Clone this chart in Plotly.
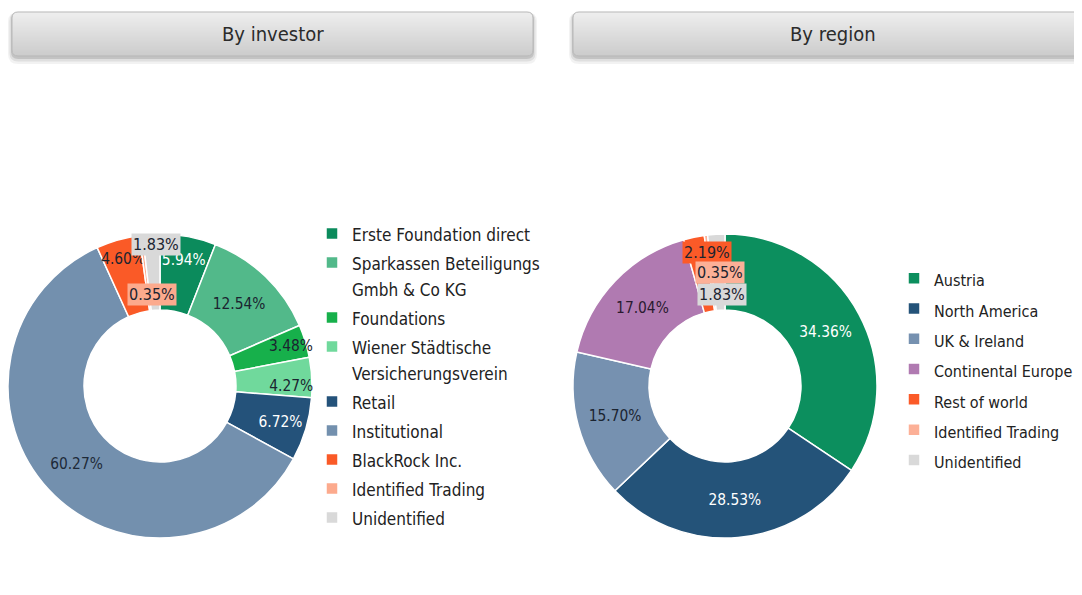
import plotly.graph_objects as go
import math

# ---------------- data ----------------
inv_labels = ["Erste Foundation direct", "Sparkassen Beteiligungs<br>Gmbh & Co KG", "Foundations",
              "Wiener Städtische<br>Versicherungsverein", "Retail", "Institutional",
              "BlackRock Inc.", "Identified Trading", "Unidentified"]
inv_values = [5.94, 12.54, 3.48, 4.27, 6.72, 60.27, 4.60, 0.35, 1.83]
inv_colors = ["#0b8b5c", "#52b98a", "#17b04b", "#70d99c", "#24527a", "#7390ae",
              "#fa5a27", "#fcaa8d", "#d9d9d9"]
inv_textcolors = ["#ffffff", "#1b2430", "#1b2430", "#1b2430", "#ffffff", "#1e2a38",
                  "#1b2430", "#1b2430", "#1b2430"]

reg_labels = ["Austria", "North America", "UK & Ireland", "Continental Europe",
              "Rest of world", "Identified Trading", "Unidentified"]
reg_values = [34.36, 28.53, 15.70, 17.04, 2.19, 0.35, 1.83]
reg_colors = ["#0c8f5e", "#245379", "#7691b0", "#b07ab1", "#fb5a28", "#fcb097", "#d9d9d9"]
reg_textcolors = ["#ffffff", "#ffffff", "#1b2430", "#2a1a30", "#1b2430", "#1b2430", "#1b2430"]

titles = ["By investor", "By region"]

# page body has an 8px margin: figure occupies screen pixels 8..1082 x 8..595
OFF = 8
W, H = 1082 - OFF, 595 - OFF
FONT = "Liberation Sans Narrow, DejaVu Sans Condensed, Arial Narrow, sans-serif"


def px(x):
    return (x - OFF) / W


def py(y):
    return 1 - (y - OFF) / H


def label_texts(values, min_inside):
    return ["%{value:.2f}%" if v >= min_inside else "" for v in values]


def legend_labels(labels, size):
    # smaller glyphs inside a legend whose row height follows a larger font
    return [f'<span style="font-size:{size}px">{l}</span>' for l in labels]


# pie geometry (screen pixels)
inv_c, inv_r = (160, 386), 152
reg_c, reg_r = (725, 386), 152


def domain(c, r):
    return dict(x=[max(px(c[0] - r), 0), px(c[0] + r)], y=[py(c[1] + r), py(c[1] - r)])


fig = go.Figure()
fig.add_trace(go.Pie(
    labels=legend_labels(inv_labels, 17), values=inv_values, sort=False,
    direction="clockwise", rotation=0,
    hole=0.5, domain=domain(inv_c, inv_r),
    marker=dict(colors=inv_colors, line=dict(color="white", width=1.5)),
    texttemplate=label_texts(inv_values, 3), textposition="inside",
    insidetextorientation="horizontal",
    textfont=dict(family=FONT, size=16, color=inv_textcolors),
    legend="legend", showlegend=True, hoverinfo="label+percent",
))
fig.add_trace(go.Pie(
    labels=legend_labels(reg_labels, 16), values=reg_values, sort=False,
    direction="clockwise", rotation=0,
    hole=0.5, domain=domain(reg_c, reg_r),
    marker=dict(colors=reg_colors, line=dict(color="white", width=1.5)),
    texttemplate=label_texts(reg_values, 3), textposition="inside",
    insidetextorientation="horizontal",
    textfont=dict(family=FONT, size=16, color=reg_textcolors),
    legend="legend2", showlegend=True, hoverinfo="label+percent",
))

# ---------------- small-slice labels with coloured boxes ----------------
annotations = []


def small_label(idx, values, colors, c, r, dx, frac):
    annotations.append(dict(
        x=px(c[0] + dx), y=py(c[1] - frac * r), xref="paper", yref="paper",
        xanchor="center", yanchor="middle",
        text=f"{values[idx]:.2f}%", showarrow=False, bgcolor=colors[idx], borderpad=1,
        font=dict(family=FONT, size=16, color="#1b2430")))


small_label(8, inv_values, inv_colors, inv_c, inv_r, -4, 0.93)
small_label(7, inv_values, inv_colors, inv_c, inv_r, -8, 0.60)
small_label(4, reg_values, reg_colors, reg_c, reg_r, -18, 0.88)
small_label(5, reg_values, reg_colors, reg_c, reg_r, -5, 0.745)
small_label(6, reg_values, reg_colors, reg_c, reg_r, -3, 0.60)

# ---------------- header buttons ----------------
shapes = []


def rounded_path(x0, y0, x1, y1, r):
    P = lambda x, y: f"{px(x):.5f},{py(y):.5f}"
    return (f"M{P(x0 + r, y0)} L{P(x1 - r, y0)} Q{P(x1, y0)} {P(x1, y0 + r)} "
            f"L{P(x1, y1 - r)} Q{P(x1, y1)} {P(x1 - r, y1)} L{P(x0 + r, y1)} "
            f"Q{P(x0, y1)} {P(x0, y1 - r)} L{P(x0, y0 + r)} Q{P(x0, y0)} {P(x0 + r, y0)} Z")


def header(x0, y0, x1, y1, text):
    r = 6
    for grow, dy, alpha in [(4, 4, 0.05), (2.5, 3, 0.08), (1, 2, 0.12)]:
        shapes.append(dict(type="path", xref="paper", yref="paper",
                           path=rounded_path(x0 - grow, y0 - grow + dy, x1 + grow, y1 + grow + dy, r + grow),
                           fillcolor=f"rgba(0,0,0,{alpha})", line=dict(width=0), layer="above"))
    shapes.append(dict(type="path", xref="paper", yref="paper",
                       path=rounded_path(x0, y0, x1, y1, r),
                       fillcolor="#dcdcdc", line=dict(width=0), layer="above"))
    n = int(y1 - y0)
    top, bot = (238, 238, 238), (204, 204, 204)
    for i in range(n):
        t = i / max(n - 1, 1)
        col = tuple(round(top[k] + (bot[k] - top[k]) * t) for k in range(3))
        ym = y0 + i + 0.5
        d = min(ym - y0, y1 - ym)
        inset = r - math.sqrt(max(r * r - (r - d) ** 2, 0)) if d < r else 0
        shapes.append(dict(type="rect", xref="paper", yref="paper",
                           x0=px(x0 + inset), x1=px(x1 - inset), y0=py(y0 + i), y1=py(y0 + i + 1.05),
                           fillcolor="rgb(%d,%d,%d)" % col, line=dict(width=0), layer="above"))
    shapes.append(dict(type="path", xref="paper", yref="paper",
                       path=rounded_path(x0, y0, x1, y1, r),
                       fillcolor="rgba(0,0,0,0)", line=dict(color="#b8b8b8", width=1), layer="above"))
    annotations.append(dict(x=px((x0 + x1) / 2), y=py((y0 + y1) / 2), xref="paper", yref="paper",
                            xanchor="center", yanchor="middle", text=text, showarrow=False,
                            font=dict(family=FONT, size=20, color="#2b2b2b")))


header(12, 12, 533, 56, titles[0])
header(573, 12, 1093, 56, titles[1])

fig.update_layout(
    width=W, height=H, margin=dict(l=0, r=0, t=0, b=0, autoexpand=False),
    paper_bgcolor="white", plot_bgcolor="white",
    shapes=shapes, annotations=annotations,
    uniformtext=dict(minsize=15, mode="show"),
    legend=dict(x=px(312), y=py(214), xanchor="left", yanchor="top",
                font=dict(family=FONT, size=20, color="#222222"),
                bgcolor="rgba(0,0,0,0)", valign="top", traceorder="normal", maxheight=500),
    legend2=dict(x=px(894), y=py(258), xanchor="left", yanchor="top",
                 font=dict(family=FONT, size=21, color="#222222"),
                 bgcolor="rgba(0,0,0,0)", valign="top", traceorder="normal", maxheight=500),
)

fig.write_html("out.html")
